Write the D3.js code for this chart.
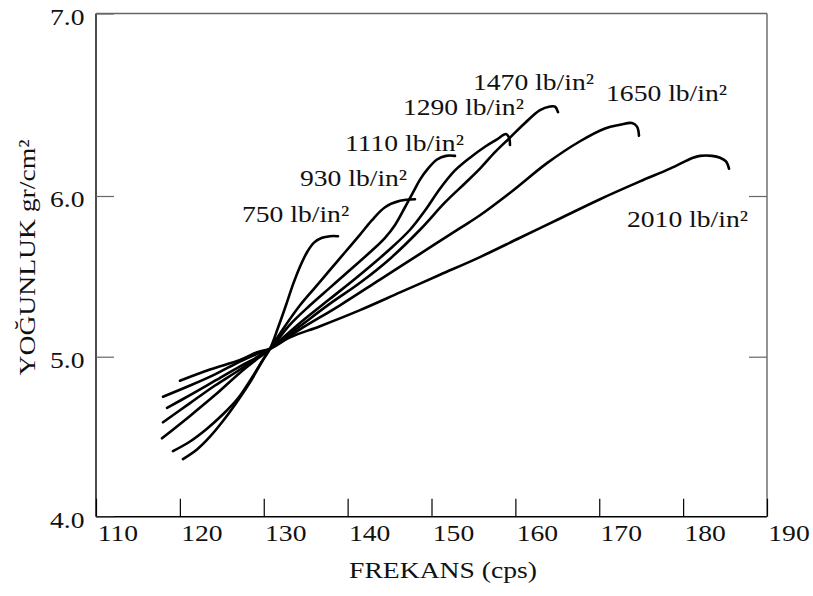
<!DOCTYPE html>
<html><head><meta charset="utf-8">
<script src="https://cdn.jsdelivr.net/npm/d3@7"></script>
<style>
body{margin:0;background:#fff;}
text{font-family:"Liberation Serif","Times New Roman",serif;fill:#111;}
</style></head>
<body><svg id="c" width="813" height="596"></svg>
<script>
// ---- data ----
const xTicks = [110,120,130,140,150,160,170,180,190];
const yTicks = [4.0,5.0,6.0,7.0];
const pressures = ["750 lb/in²","930 lb/in²","1110 lb/in²","1290 lb/in²","1470 lb/in²","1650 lb/in²","2010 lb/in²"];

const freq750 = [120.37,122.04,123.59,125.02,126.57,128.36,129.79,130.75,131.70,132.65,133.49,134.32,135.16,135.99,136.95,137.90,138.85];
const dens750 = [4.36,4.42,4.50,4.59,4.70,4.84,4.97,5.05,5.18,5.32,5.45,5.56,5.65,5.71,5.74,5.75,5.75];

const freq930 = [119.18,121.21,123.23,125.14,126.93,128.36,129.79,130.75,132.53,134.32,136.11,137.90,139.69,141.48,142.91,144.46,146.25,148.03];
const dens930 = [4.41,4.47,4.55,4.64,4.74,4.85,4.97,5.05,5.19,5.32,5.43,5.54,5.65,5.76,5.85,5.93,5.97,5.98];

const freq1110 = [117.87,121.21,124.19,127.17,129.32,130.75,133.13,135.52,137.90,140.28,142.67,144.46,145.65,146.84,147.80,148.63,149.58,150.66,151.73,152.80];
const dens1110 = [4.49,4.63,4.76,4.90,4.99,5.05,5.20,5.32,5.43,5.54,5.65,5.74,5.82,5.93,6.02,6.09,6.15,6.20,6.22,6.22];

const freq1290 = [117.99,121.21,124.19,127.17,129.32,130.75,134.32,137.90,141.48,145.06,147.44,149.23,151.01,152.80,154.59,156.38,157.81,158.88,159.24,159.36];
const dens1290 = [4.59,4.71,4.82,4.92,5.00,5.05,5.21,5.36,5.51,5.67,5.79,5.91,6.04,6.14,6.21,6.27,6.31,6.34,6.32,6.28];

const freq1470 = [118.47,121.21,124.19,127.17,129.32,130.75,134.32,137.90,141.48,145.06,148.63,151.61,154.00,155.78,157.57,159.36,161.15,162.94,164.13,164.72,165.08];
const dens1470 = [4.68,4.76,4.85,4.94,5.00,5.05,5.19,5.33,5.46,5.61,5.79,5.96,6.07,6.15,6.24,6.32,6.40,6.47,6.49,6.49,6.46];

const freq1650 = [117.99,121.21,124.19,127.17,129.32,130.75,134.32,139.09,143.86,148.63,153.40,155.78,159.72,163.77,167.71,170.69,172.47,173.90,174.50,174.74];
const dens1650 = [4.75,4.82,4.89,4.97,5.02,5.05,5.17,5.32,5.48,5.64,5.80,5.88,6.03,6.18,6.30,6.37,6.39,6.40,6.38,6.33];

const freq2010 = [120.01,123.59,127.17,129.32,130.75,133.13,136.71,141.48,146.25,151.01,155.78,160.55,165.32,170.09,174.86,178.44,181.18,182.01,183.44,184.40,185.11,185.47];
const dens2010 = [4.85,4.92,4.98,5.03,5.05,5.12,5.19,5.29,5.40,5.51,5.62,5.74,5.86,5.98,6.08,6.15,6.21,6.22,6.22,6.21,6.19,6.15];

// label anchors (data coordinates)
const labelFreq = [127.41,134.32,139.69,146.60,154.95,170.81,173.31];
const labelDens = [5.84,6.055,6.248,6.444,6.581,6.522,5.809];

const series = [
  {f:freq750,d:dens750},{f:freq930,d:dens930},{f:freq1110,d:dens1110},
  {f:freq1290,d:dens1290},{f:freq1470,d:dens1470},{f:freq1650,d:dens1650},
  {f:freq2010,d:dens2010}
];

// ---- layout ----
const svg = d3.select("#c");
const L=96, R=767, T=13.5, B=516.7;
const x = d3.scaleLinear().domain([110,190]).range([L,R]);
const y = d3.scaleLinear().domain([4,5,6,7]).range([B,356.7,196,T]);
const FS = 23, STRETCH = 1.2;

function stretch(sel,k){
  sel.each(function(){
    const w=this.getComputedTextLength();
    this.setAttribute("textLength",w*k);
    this.setAttribute("lengthAdjust","spacingAndGlyphs");
  });
}

// frame
const frame = svg.append("g").attr("stroke-width",1.4).attr("fill","none");
frame.append("line").attr("x1",L).attr("x2",L).attr("y1",T).attr("y2",B).attr("stroke","#000");
frame.append("line").attr("x1",L).attr("x2",R).attr("y1",B).attr("y2",B).attr("stroke","#000");
frame.append("line").attr("x1",L).attr("x2",R).attr("y1",T).attr("y2",T).attr("stroke","#666");
frame.append("line").attr("x1",R).attr("x2",R).attr("y1",T).attr("y2",B).attr("stroke","#666");

// x axis
const gx = svg.append("g").attr("transform",`translate(0,${B})`)
  .call(d3.axisBottom(x).tickValues(xTicks).tickSizeInner(-18).tickSizeOuter(0).tickFormat(d3.format("d")));
gx.select(".domain").remove();
gx.selectAll(".tick line").attr("stroke","#000").attr("stroke-width",1.2);
gx.selectAll(".tick text").attr("y",24.3).attr("dy",0).attr("dx",21.5)
  .style("font-size",FS+"px").attr("fill","#111").call(stretch,STRETCH);

// y axis
const gy = svg.append("g").attr("transform",`translate(${L},0)`)
  .call(d3.axisLeft(y).tickValues(yTicks).tickSizeInner(-18).tickSizeOuter(0).tickFormat(d3.format(".1f")));
gy.select(".domain").remove();
gy.selectAll(".tick line").attr("stroke","#666").attr("stroke-width",1.2);
gy.selectAll(".tick text").attr("x",-11.5).attr("dy",10.8)
  .style("font-size",FS+"px").attr("fill","#111").call(stretch,STRETCH);

// right ticks
const gr = svg.append("g").attr("transform",`translate(${R},0)`)
  .call(d3.axisRight(y).tickValues([5,6]).tickSizeInner(-18).tickSizeOuter(0).tickFormat(""));
gr.select(".domain").remove();
gr.selectAll(".tick line").attr("stroke","#666").attr("stroke-width",1.2);

// curves
const line = d3.line().x(p=>x(p[0])).y(p=>y(p[1])).curve(d3.curveCatmullRom.alpha(0.5));
svg.append("g").selectAll("path").data(series).join("path")
  .attr("d",s=>line(s.f.map((v,i)=>[v,s.d[i]])))
  .attr("fill","none").attr("stroke","#000").attr("stroke-width",2.6)
  .attr("stroke-linecap","round").attr("stroke-linejoin","round");

// labels
svg.append("g").selectAll("text").data(pressures).join("text")
  .attr("x",(d,i)=>x(labelFreq[i])).attr("y",(d,i)=>y(labelDens[i]))
  .style("font-size",FS+"px").text(d=>d).call(stretch,STRETCH);

// axis titles
svg.append("text").attr("x",443).attr("y",577.7).attr("text-anchor","middle")
  .style("font-size",FS+"px").text("FREKANS (cps)").call(stretch,STRETCH);
svg.append("text").attr("transform","translate(35,257.5) rotate(-90)").attr("text-anchor","middle")
  .style("font-size",FS+"px").text("YOĞUNLUK gr/cm²").call(stretch,STRETCH);
</script></body></html>
